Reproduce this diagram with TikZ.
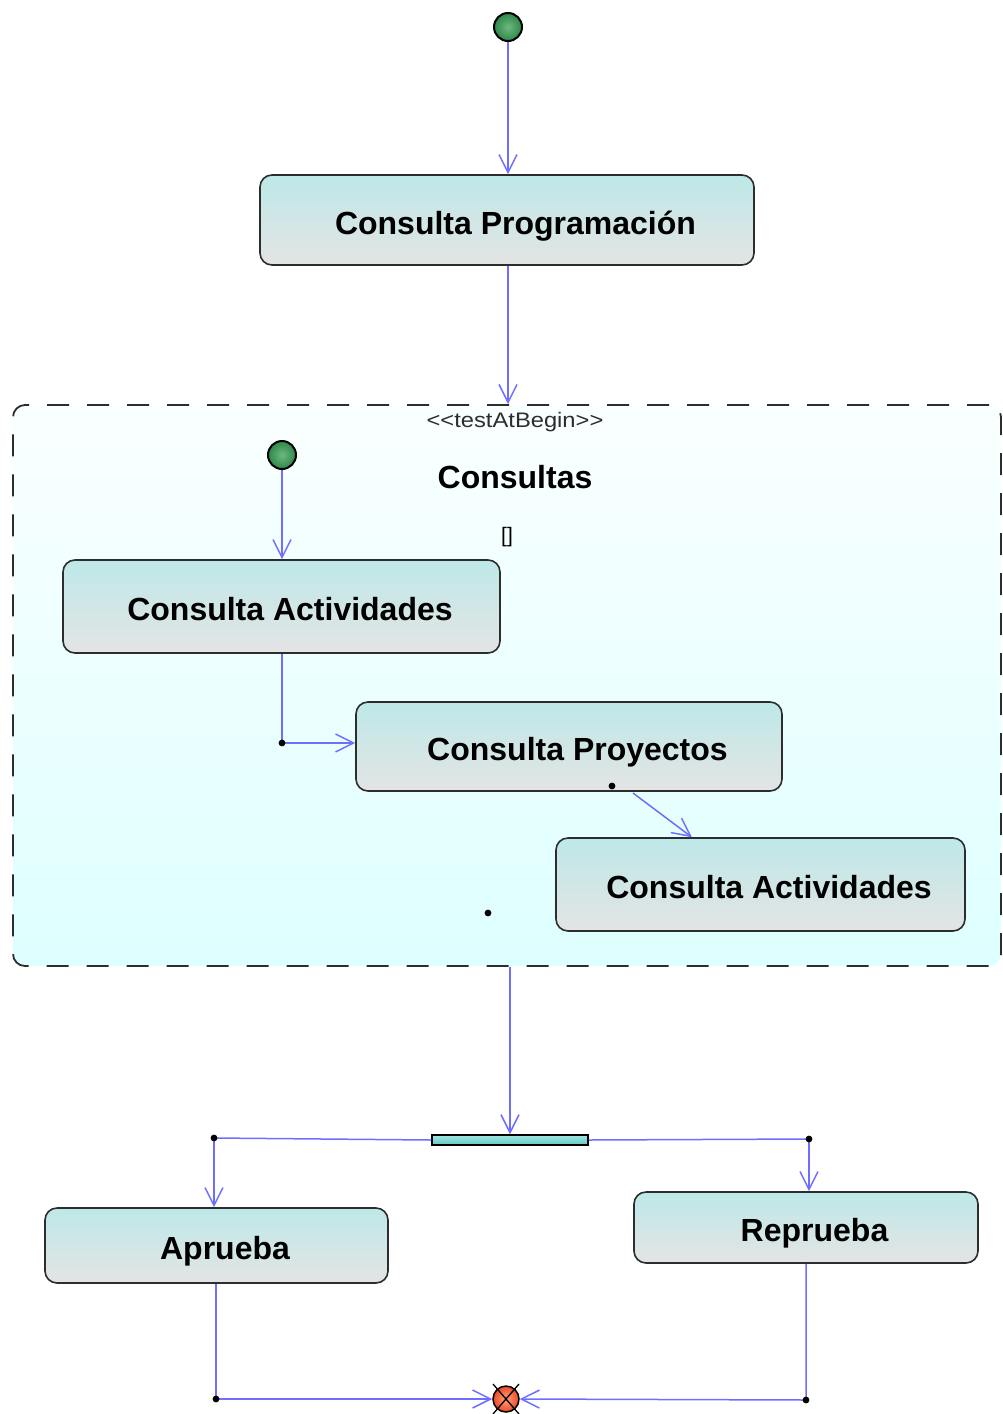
\documentclass[tikz,border=0pt]{standalone}
\usepackage{fontspec}
\setmainfont{Liberation Sans}
\usetikzlibrary{arrows.meta,calc}

\definecolor{flowblue}{RGB}{110,110,255}
\definecolor{boxline}{RGB}{45,45,45}
\definecolor{boxtop}{RGB}{190,232,232}
\definecolor{boxbot}{RGB}{228,228,228}
\definecolor{regtop}{RGB}{250,255,255}
\definecolor{regbot}{RGB}{222,255,255}
\definecolor{startin}{RGB}{110,185,125}
\definecolor{startout}{RGB}{45,135,75}
\definecolor{finin}{RGB}{255,160,120}
\definecolor{finout}{RGB}{235,75,40}
\definecolor{bartop}{RGB}{160,230,225}
\definecolor{barbot}{RGB}{100,200,195}

\tikzset{
  activity/.style={draw=boxline, line width=1.6pt, rounded corners=12pt,
    top color=boxtop, bottom color=boxbot, inner sep=0pt,
    text height=28pt, text depth=0pt,
    execute at begin node={\hspace*{17pt}},
    font=\fontsize{32}{38}\selectfont\bfseries},
  region/.style={draw=boxline, line width=1.8pt, rounded corners=12pt,
    dash pattern=on 22pt off 18pt, top color=regtop, bottom color=regbot,
    inner sep=0pt},
  initial/.style={circle, draw=black, line width=2pt, minimum size=28pt,
    inner sep=0pt, inner color=startin, outer color=startout},
  final/.style={circle, draw=black, line width=1.5pt, minimum size=26pt,
    inner sep=0pt, inner color=finin, outer color=finout},
  forkbar/.style={draw=black, line width=1.5pt, top color=bartop,
    bottom color=barbot, inner sep=0pt, minimum width=156pt, minimum height=10pt},
  flow/.style={draw=flowblue, line width=1.5pt,
    -{Straight Barb[length=18pt,width=18pt]}},
  plainflow/.style={draw=flowblue, line width=1.5pt},
  boldlabel/.style={font=\fontsize{32}{38}\selectfont\bfseries, inner sep=0pt},
  smalllabel/.style={font=\fontsize{21}{24}\selectfont, text=boxline, inner sep=0pt},
}

\begin{document}
\begin{tikzpicture}[x=1pt,y=-1pt]
\useasboundingbox (0,0) rectangle (1002,1414);

% outer flow
\node[initial] (s0) at (508,27) {};
\node[activity, minimum width=494pt, minimum height=90pt] (prog) at (507,220)
  {Consulta Programación};

% composite activity region
\node[region, minimum width=988pt, minimum height=561pt] (reg) at (507,685.5) {};
\node[smalllabel] (stereo) at (515,422) {\scalebox{1.13}[1]{<{}<testAtBegin>{}>}};
\node[boldlabel] (regname) at (515,477) {Consultas};
\node[smalllabel, text=black] (guard) at (507,537) {[]};

\node[initial] (s1) at (282,455) {};
\node[activity, minimum width=437pt, minimum height=93pt] (act1) at (281.5,606.5)
  {Consulta Actividades};
\node[activity, minimum width=426pt, minimum height=89pt] (proy) at (569,746.5)
  {Consulta Proyectos};
\node[activity, minimum width=409pt, minimum height=93pt] (act2) at (760.5,884.5)
  {Consulta Actividades};

% fork and outcomes
\node[forkbar] (bar) at (510,1140) {};
\node[activity, minimum width=343pt, minimum height=75pt] (apr) at (216.5,1245.5)
  {Aprueba};
\node[activity, minimum width=344pt, minimum height=71pt] (rep) at (806,1227.5)
  {Reprueba};
\node[final] (fin) at (506,1399) {};
\draw[black, line width=1.3pt] ($(fin.center)+(-13,-15)$) -- ($(fin.center)+(13,15)$)
  ($(fin.center)+(13,-15)$) -- ($(fin.center)+(-13,15)$);

% bend points
\coordinate (j1) at (282,743);
\coordinate (j2) at (612,786);
\coordinate (j2s) at (633,793);
\coordinate (j3) at (488,913);
\coordinate (fl) at (214,1138);
\coordinate (fr) at (809,1139);
\coordinate (bl) at (216,1399);
\coordinate (br) at (806,1400);

% transitions
\draw[flow] (s0) -- (prog.north -| s0);
\draw[flow] (prog.south -| s0) -- (reg.north -| s0);
\draw[flow] (s1) -- (act1.north -| s1);
\draw[flow] (act1.south -| j1) -- (j1) -- (proy.west |- j1);
\draw[flow] (j2s) -- ($(act2.north west)!0.333!(act2.north east)$);
\draw[flow] (reg.south -| bar) -- (bar.north);
\draw[plainflow] (bar.west) -- (fl);
\draw[flow] (fl) -- (apr.north -| fl);
\draw[plainflow] (bar.east) -- (fr);
\draw[flow] (fr) -- (rep.north -| fr);
\draw[flow] (apr.south -| bl) -- (bl) -- (fin.west);
\draw[flow] (rep.south -| br) -- (br) -- (fin.east);

% junction dots
\foreach \p in {j1,j2,j3,fl,fr,bl,br}
  \fill[black] (\p) circle (3.4);
\end{tikzpicture}
\end{document}
